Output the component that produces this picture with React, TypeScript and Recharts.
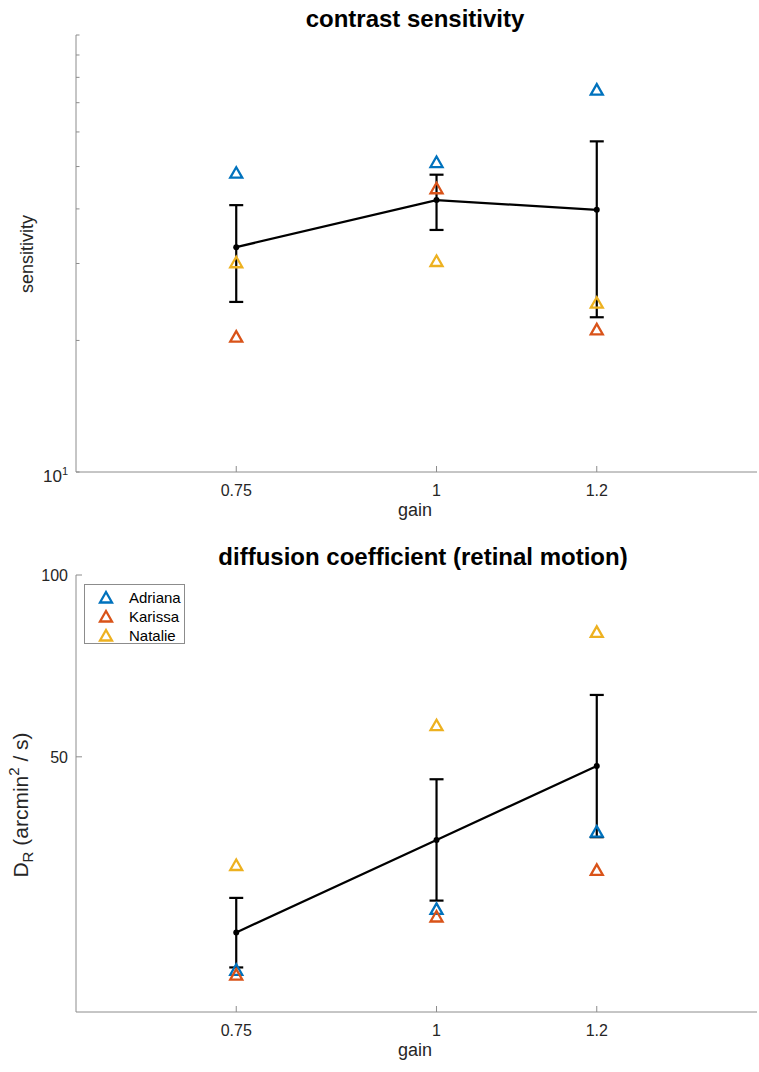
import React from 'react';
import {
  ComposedChart,
  Line,
  Scatter,
  XAxis,
  YAxis,
  ErrorBar,
  Legend,
} from 'recharts';

// gain levels (x axis)
const gains = [0.75, 1, 1.2];
const gainTicks = [0.75, 1, 1.2];

// subjects and their MATLAB default colours
const subjects = ['Adriana', 'Karissa', 'Natalie'];
const subjectColors = ['#0072BD', '#D95319', '#EDB120'];

// contrast sensitivity per subject
const csAdriana = [48.4, 51.2, 75.0];
const csKarissa = [20.4, 44.6, 21.2];
const csNatalie = [30.2, 30.4, 24.4];
const csMean = [32.7, 41.9, 39.8];
const csErrLow = [8.2, 6.1, 17.2];
const csErrHigh = [8.1, 6.0, 17.3];
const csTicks = [10, 20, 30, 40, 50, 60, 70, 80, 90, 100];

// diffusion coefficient per subject (arcmin^2 / s)
const drAdriana = [22.2, 28.0, 37.6];
const drKarissa = [21.8, 27.2, 32.5];
const drNatalie = [33.1, 56.4, 80.5];
const drMean = [25.6, 36.4, 48.3];
const drErrLow = [3.2, 7.5, 11.5];
const drErrHigh = [3.6, 9.5, 15.0];
const drTicks = [50, 100];

const csData = gains.map((g, i) => ({
  gain: g,
  Adriana: csAdriana[i],
  Karissa: csKarissa[i],
  Natalie: csNatalie[i],
  mean: csMean[i],
  err: [csErrLow[i], csErrHigh[i]],
}));

const drData = gains.map((g, i) => ({
  gain: g,
  Adriana: drAdriana[i],
  Karissa: drKarissa[i],
  Natalie: drNatalie[i],
  mean: drMean[i],
  err: [drErrLow[i], drErrHigh[i]],
}));

const FONT = '"Liberation Sans", Arial, Helvetica, sans-serif';
const AXIS = '#8c8c8c';
const W = 759;
const H = 536;

const Triangle = (color: string) => (props: any) => {
  const { cx, cy } = props;
  if (cx == null || cy == null) return <g />;
  return (
    <polygon
      points={`${cx},${cy - 5.5} ${cx - 6},${cy + 5} ${cx + 6},${cy + 5}`}
      fill="none"
      stroke={color}
      strokeWidth={2.3}
    />
  );
};

const GainTick = (props: any) => {
  const { x, y, payload } = props;
  return (
    <g>
      <line x1={x} x2={x} y1={y} y2={y - 6} stroke={AXIS} />
      <text x={x} y={y + 23.5} textAnchor="middle" fontSize={16} fontFamily={FONT} fill="#262626">
        {payload.value}
      </text>
    </g>
  );
};

const CsTick = (props: any) => {
  const { x, y, payload } = props;
  const v = payload.value;
  return (
    <g>
      <line x1={x} x2={x + 3.5} y1={y} y2={y} stroke={AXIS} />
      {v === 10 && (
        <text x={x - 8} y={y + 10} textAnchor="end" fontSize={17} fontFamily={FONT} fill="#262626">
          10<tspan dy={-7} fontSize={11}>1</tspan>
        </text>
      )}
    </g>
  );
};

const DrTick = (props: any) => {
  const { x, y, payload } = props;
  return (
    <g>
      <line x1={x} x2={x + 6} y1={y} y2={y} stroke={AXIS} />
      <text x={x - 8} y={y + 5.7} textAnchor="end" fontSize={16} fontFamily={FONT} fill="#262626">
        {payload.value}
      </text>
    </g>
  );
};

const LegendBox = () => (
  <div
    style={{
      width: 99,
      height: 58,
      border: '1px solid #8c8c8c',
      background: '#fff',
      fontFamily: FONT,
      fontSize: 15,
      color: '#000',
      position: 'relative',
    }}
  >
    {subjects.map((name, i) => (
      <div
        key={name}
        style={{ position: 'absolute', left: 0, top: 3 + i * 18.8, height: 19, display: 'flex', alignItems: 'center' }}
      >
        <svg width={44} height={19} style={{ display: 'block' }}>
          <polygon points="21,4 15,14.5 27,14.5" fill="none" stroke={subjectColors[i]} strokeWidth={2.3} />
        </svg>
        <span style={{ lineHeight: '19px' }}>{name}</span>
      </div>
    ))}
  </div>
);

const App = () => {
  return (
    <div style={{ position: 'absolute', left: 0, top: 0, width: W, height: 1072, background: '#fff' }}>
      {/* contrast sensitivity */}
      <ComposedChart width={W} height={H} data={csData} margin={{ top: 35, right: 2, bottom: 34, left: 16 }}>
        <XAxis
          dataKey="gain"
          type="number"
          domain={[0.55, 1.4]}
          ticks={gainTicks}
          interval={0}
          allowDataOverflow
          height={30}
          tickSize={0}
          tickMargin={0}
          tick={<GainTick />}
          axisLine={{ stroke: AXIS }}
        />
        <YAxis
          type="number"
          scale="log"
          domain={[10, 100]}
          ticks={csTicks}
          interval={0}
          allowDataOverflow
          width={60}
          tickSize={0}
          tickMargin={0}
          tick={<CsTick />}
          axisLine={{ stroke: AXIS }}
        />
        {subjects.map((s, i) => (
          <Scatter key={s} dataKey={s} shape={Triangle(subjectColors[i])} isAnimationActive={false} />
        ))}
        <Line
          dataKey="mean"
          stroke="#000"
          strokeWidth={2.2}
          dot={{ r: 3, fill: '#000', stroke: '#000', strokeWidth: 0 }}
          activeDot={false}
          isAnimationActive={false}
        >
          <ErrorBar dataKey="err" width={7} stroke="#000" strokeWidth={2.2} direction="y" />
        </Line>
        <text x={415} y={27} textAnchor="middle" fontSize={24} fontWeight="bold" fontFamily={FONT} fill="#000">
          contrast sensitivity
        </text>
        <text x={415} y={516} textAnchor="middle" fontSize={18} fontFamily={FONT} fill="#262626">
          gain
        </text>
        <text transform="rotate(-90)" x={-254} y={33} textAnchor="middle" fontSize={18} fontFamily={FONT} fill="#262626">
          sensitivity
        </text>
      </ComposedChart>

      {/* diffusion coefficient */}
      <ComposedChart width={W} height={H} data={drData} margin={{ top: 39, right: 2, bottom: 30, left: 16 }}>
        <XAxis
          dataKey="gain"
          type="number"
          domain={[0.55, 1.4]}
          ticks={gainTicks}
          interval={0}
          allowDataOverflow
          height={30}
          tickSize={0}
          tickMargin={0}
          tick={<GainTick />}
          axisLine={{ stroke: AXIS }}
        />
        <YAxis
          type="number"
          scale="log"
          domain={[18.9, 100]}
          ticks={drTicks}
          interval={0}
          allowDataOverflow
          width={60}
          tickSize={0}
          tickMargin={0}
          tick={<DrTick />}
          axisLine={{ stroke: AXIS }}
        />
        {subjects.map((s, i) => (
          <Scatter key={s} dataKey={s} shape={Triangle(subjectColors[i])} isAnimationActive={false} />
        ))}
        <Line
          dataKey="mean"
          stroke="#000"
          strokeWidth={2.2}
          dot={{ r: 3, fill: '#000', stroke: '#000', strokeWidth: 0 }}
          activeDot={false}
          isAnimationActive={false}
        >
          <ErrorBar dataKey="err" width={7} stroke="#000" strokeWidth={2.2} direction="y" />
        </Line>
        <Legend
          layout="horizontal"
          verticalAlign="middle"
          align="center"
          content={<LegendBox />}
          wrapperStyle={{ left: 84, top: 48, width: 101, height: 60 }}
        />
        <text x={423} y={29} textAnchor="middle" fontSize={24} fontWeight="bold" fontFamily={FONT} fill="#000">
          diffusion coefficient (retinal motion)
        </text>
        <text x={415} y={520} textAnchor="middle" fontSize={18} fontFamily={FONT} fill="#262626">
          gain
        </text>
        <text transform="rotate(-90)" x={-269} y={28} textAnchor="middle" fontSize={21} fontFamily={FONT} fill="#262626">
          D<tspan dy={5} fontSize={15}>R</tspan>
          <tspan dy={-5}> (arcmin</tspan>
          <tspan dy={-9} fontSize={15}>2</tspan>
          <tspan dy={9}> / s)</tspan>
        </text>
      </ComposedChart>
    </div>
  );
};

export default App;
